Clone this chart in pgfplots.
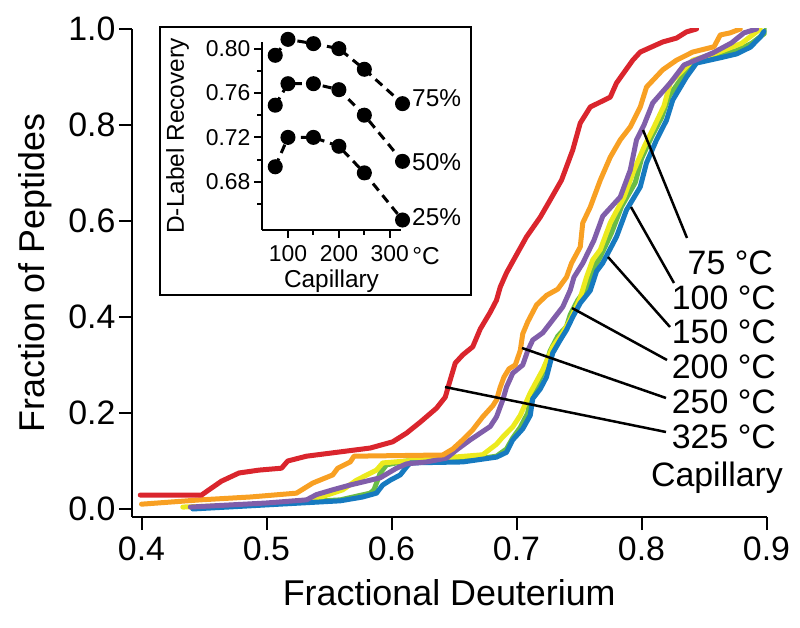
\documentclass[border=0pt]{standalone}
\usepackage{pgfplots}
\pgfplotsset{compat=1.18}
\usepackage{fontspec}
\setmainfont{Liberation Sans}
\definecolor{cred}{RGB}{218,37,45}
\definecolor{corange}{RGB}{248,160,35}
\definecolor{cpurple}{RGB}{128,94,170}
\definecolor{cyellow}{RGB}{236,234,30}
\definecolor{cgreen}{RGB}{106,189,69}
\definecolor{cblue}{RGB}{22,122,192}
\newcommand{\BigF}{\fontsize{34}{40}\selectfont}
\newcommand{\TitF}{\fontsize{36}{42}\selectfont}
\newcommand{\SmF}{\fontsize{23}{27}\selectfont}
\newcommand{\SmT}{\fontsize{24.5}{28}\selectfont}
\pgfplotsset{inset/.style={black, line width=3bp, dash pattern=on 9bp off 6bp, mark=*, mark size=6bp, mark options={solid, fill=black}},
  curve/.style={line width=5bp, line join=round, line cap=round, mark=none}}
\begin{document}
\begin{tikzpicture}[px/.style={shift={(-132bp,517bp)},x=1bp,y=-1bp}]
\path[use as bounding box,px] (0,0) rectangle (800,628);
\begin{axis}[
  scale only axis, width=634.5bp, height=488bp,
  xmin=0.3924, xmax=0.9, ymin=-0.0167, ymax=1.0,
  axis lines=left, axis line style={line width=2bp,-},
  tick style={line width=2bp,black}, tick align=outside, major tick length=13bp,
  xtick={0.4,0.5,0.6,0.7,0.8,0.9}, ytick={0,0.2,0.4,0.6,0.8,1},
  /pgf/number format/.cd, fixed, fixed zerofill, precision=1, assume math mode=true, /pgfplots/.cd,
  ticklabel style={font=\BigF},
  xticklabel style={yshift=-3bp},
  xlabel={Fractional Deuterium}, ylabel={Fraction of Peptides},
  label style={font=\TitF},
  xlabel style={yshift=-12bp},
  ylabel style={yshift=10bp},
]
\addplot[curve, cgreen] coordinates {(0.441,0.002) (0.559,0.019) (0.583,0.033) (0.586,0.04) (0.591,0.075) (0.596,0.092) (0.612,0.1) (0.657,0.1) (0.684,0.11) (0.692,0.125) (0.697,0.148) (0.703,0.17) (0.709,0.2) (0.711,0.235) (0.717,0.26) (0.722,0.29) (0.727,0.33) (0.733,0.36) (0.74,0.38) (0.743,0.405) (0.749,0.435) (0.756,0.46) (0.761,0.5) (0.766,0.52) (0.776,0.575) (0.784,0.63) (0.795,0.68) (0.8,0.73) (0.808,0.775) (0.816,0.815) (0.822,0.86) (0.834,0.905) (0.843,0.93) (0.862,0.945) (0.876,0.955) (0.888,0.97) (0.898,0.99) (0.9,1.0)};
\addplot[curve, cyellow] coordinates {(0.433,0.004) (0.5,0.01) (0.537,0.019) (0.561,0.04) (0.572,0.06) (0.588,0.081) (0.593,0.096) (0.612,0.1) (0.673,0.113) (0.684,0.135) (0.689,0.15) (0.697,0.171) (0.703,0.195) (0.706,0.2125) (0.711,0.242) (0.716,0.266) (0.721,0.29) (0.729,0.3375) (0.737,0.367) (0.743,0.394) (0.751,0.44) (0.756,0.483) (0.761,0.519) (0.767,0.54) (0.775,0.596) (0.786,0.65) (0.794,0.706) (0.802,0.754) (0.81,0.796) (0.818,0.84) (0.823,0.8875) (0.841,0.935) (0.86,0.95) (0.88,0.97) (0.895,1.0)};
\addplot[curve, cblue] coordinates {(0.441,0.0) (0.559,0.017) (0.577,0.025) (0.588,0.033) (0.593,0.05) (0.599,0.06) (0.607,0.071) (0.612,0.0875) (0.615,0.096) (0.657,0.098) (0.684,0.108) (0.692,0.118) (0.697,0.144) (0.705,0.167) (0.711,0.195) (0.713,0.23) (0.719,0.25) (0.724,0.275) (0.729,0.325) (0.735,0.352) (0.74,0.373) (0.745,0.4) (0.751,0.429) (0.759,0.455) (0.764,0.495) (0.769,0.5125) (0.78,0.567) (0.788,0.623) (0.799,0.671) (0.804,0.721) (0.812,0.769) (0.82,0.81) (0.825,0.852) (0.836,0.9) (0.844,0.929) (0.863,0.94) (0.876,0.948) (0.887,0.962) (0.895,0.983) (0.898,0.995)};
\addplot[curve, cpurple] coordinates {(0.439,0.004) (0.5,0.0125) (0.532,0.019) (0.54,0.03) (0.553,0.04) (0.567,0.05) (0.591,0.065) (0.604,0.085) (0.612,0.094) (0.628,0.098) (0.644,0.106) (0.652,0.123) (0.663,0.144) (0.671,0.158) (0.679,0.172) (0.684,0.192) (0.689,0.227) (0.692,0.254) (0.697,0.283) (0.705,0.3) (0.709,0.33) (0.713,0.352) (0.721,0.367) (0.729,0.394) (0.737,0.421) (0.743,0.456) (0.746,0.483) (0.753,0.512) (0.762,0.56) (0.769,0.61) (0.783,0.65) (0.791,0.706) (0.796,0.769) (0.802,0.8) (0.809,0.846) (0.823,0.8875) (0.834,0.925) (0.857,0.95) (0.872,0.971) (0.882,0.992) (0.892,1.0)};
\addplot[curve, corange] coordinates {(0.4,0.01) (0.447,0.019) (0.487,0.025) (0.524,0.033) (0.537,0.054) (0.553,0.071) (0.557,0.085) (0.567,0.098) (0.57,0.11) (0.641,0.1125) (0.649,0.125) (0.657,0.144) (0.665,0.165) (0.673,0.192) (0.681,0.215) (0.684,0.227) (0.687,0.254) (0.69,0.275) (0.694,0.292) (0.699,0.3) (0.703,0.33) (0.705,0.365) (0.709,0.39) (0.716,0.425) (0.724,0.445) (0.733,0.458) (0.74,0.483) (0.744,0.512) (0.751,0.546) (0.753,0.596) (0.759,0.629) (0.767,0.685) (0.775,0.733) (0.783,0.769) (0.791,0.796) (0.799,0.8375) (0.804,0.879) (0.817,0.915) (0.828,0.935) (0.841,0.952) (0.858,0.963) (0.863,0.9875) (0.871,0.992) (0.879,1.0)};
\addplot[curve, cred] coordinates {(0.399,0.029) (0.448,0.029) (0.454,0.04) (0.464,0.058) (0.478,0.075) (0.494,0.081) (0.512,0.085) (0.517,0.1) (0.532,0.11) (0.559,0.119) (0.583,0.127) (0.601,0.14) (0.612,0.158) (0.623,0.181) (0.636,0.21) (0.643,0.233) (0.647,0.269) (0.651,0.304) (0.657,0.321) (0.665,0.338) (0.671,0.375) (0.679,0.41) (0.684,0.435) (0.687,0.4625) (0.692,0.492) (0.699,0.525) (0.708,0.567) (0.719,0.608) (0.727,0.644) (0.736,0.685) (0.745,0.748) (0.751,0.804) (0.759,0.8375) (0.775,0.858) (0.78,0.8875) (0.793,0.935) (0.799,0.952) (0.817,0.973) (0.828,0.981) (0.836,0.994) (0.844,1.0)};
\end{axis}
\draw[px, line width=2.5bp] (160,27) rectangle (471,295);
\begin{axis}[
  at={(130bp,287bp)}, anchor=south west,
  scale only axis, width=139bp, height=188bp,
  xmin=49, xmax=322, ymin=0.6365, ymax=0.806,
  axis lines=left, axis line style={line width=2bp,-},
  tick style={line width=2bp,black}, tick align=outside,
  major tick length=8bp, minor tick length=5bp,
  xtick={100,200,300}, minor xtick={150,250},
  ytick={0.68,0.72,0.76,0.80}, minor ytick={0.66,0.70,0.74,0.78},
  yticklabel style={/pgf/number format/.cd, fixed, fixed zerofill, precision=2},
  /pgf/number format/assume math mode=true,
  ticklabel style={font=\SmF},
  xticklabel style={yshift=-4bp},
  xlabel={Capillary}, ylabel={D-Label Recovery},
  label style={font=\SmT},
  xlabel style={yshift=-1bp},
  ylabel style={yshift=10bp},
  clip=false,
]
\addplot[inset] coordinates {(75,0.794) (100,0.8084) (150,0.8045) (200,0.800) (250,0.7814) (325,0.7504)};
\addplot[inset] coordinates {(75,0.749) (100,0.7684) (150,0.7684) (200,0.763) (250,0.740) (325,0.6984)};
\addplot[inset] coordinates {(75,0.6935) (100,0.720) (150,0.720) (200,0.712) (250,0.688) (325,0.6455)};
\end{axis}
\node[px, font=\SmT, anchor=west, inner sep=0] at (412,98) {75\%};
\node[px, font=\SmT, anchor=west, inner sep=0] at (412,162) {50\%};
\node[px, font=\SmT, anchor=west, inner sep=0] at (412,217) {25\%};
\node[px, font=\SmT, inner sep=0] at (426,256) {°C};
\begin{scope}[px, line width=2.5bp]
\draw (643,130) -- (687,238);
\draw (631,207) -- (674,283);
\draw (608,257) -- (670,327);
\draw (572,308) -- (667,360);
\draw (522,348) -- (666,398);
\draw (445,387) -- (666,432);
\end{scope}
\node[px, font=\BigF, anchor=east, inner sep=0] at (773,263) {75 °C};
\node[px, font=\BigF, anchor=east, inner sep=0] at (776,298) {100 °C};
\node[px, font=\BigF, anchor=east, inner sep=0] at (776,332) {150 °C};
\node[px, font=\BigF, anchor=east, inner sep=0] at (776,367) {200 °C};
\node[px, font=\BigF, anchor=east, inner sep=0] at (776,402) {250 °C};
\node[px, font=\BigF, anchor=east, inner sep=0] at (776,437) {325 °C};
\node[px, font=\BigF, inner sep=0] at (717,478) {Capillary};
\end{tikzpicture}
\end{document}
